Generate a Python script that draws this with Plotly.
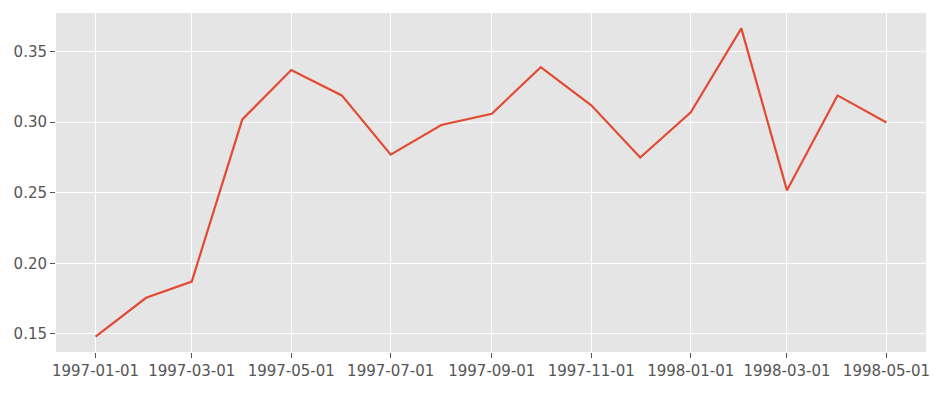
import plotly.graph_objects as go
import pandas as pd

dates = ["1997-01-01", "1997-02-01", "1997-03-01", "1997-04-01", "1997-05-01",
         "1997-06-01", "1997-07-01", "1997-08-01", "1997-09-01", "1997-10-01",
         "1997-11-01", "1997-12-01", "1998-01-01", "1998-02-01", "1998-03-01",
         "1998-04-01", "1998-05-01"]
values = [0.148, 0.1755, 0.187, 0.302, 0.337, 0.319, 0.277, 0.298, 0.306, 0.339,
          0.312, 0.275, 0.307, 0.3665, 0.2517, 0.319, 0.2998]

d = pd.to_datetime(dates)
span = d.max() - d.min()
xr = [d.min() - span * 0.05, d.max() + span * 0.05]
vspan = max(values) - min(values)
yr = [min(values) - vspan * 0.05, max(values) + vspan * 0.05]

fig = go.Figure(go.Scatter(x=dates, y=values, mode="lines",
                           line=dict(color="#E24A33", width=2.2)))

fig.update_layout(
    width=933, height=389,
    margin=dict(l=48, r=15, t=5, b=45),
    plot_bgcolor="#E5E5E5", paper_bgcolor="white",
    showlegend=False,
    font=dict(family="DejaVu Sans", size=15, color="#555555"),
)
fig.update_xaxes(range=xr, type="date", tick0="1997-01-01", dtick="M2",
                 tickformat="%Y-%m-%d", showgrid=True, gridcolor="white",
                 gridwidth=1.2, ticks="outside", ticklen=5, tickcolor="#555555",
                 zeroline=False, showline=False)
fig.update_yaxes(range=yr, tick0=0.15, dtick=0.05, tickformat=".2f",
                 showgrid=True, gridcolor="white", gridwidth=1.2,
                 ticks="outside", ticklen=5, tickcolor="#555555",
                 zeroline=False, showline=False)

fig.write_html("out.html")
